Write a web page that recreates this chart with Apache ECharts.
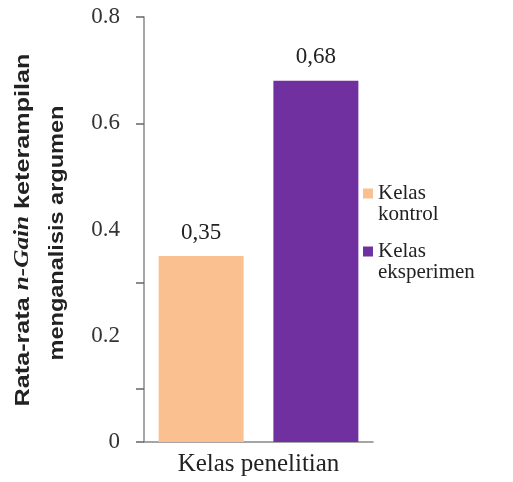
<!DOCTYPE html>
<html>
<head>
<meta charset="utf-8">
<script src="https://cdn.jsdelivr.net/npm/echarts@6/dist/echarts.min.js"></script>
<style>html,body{margin:0;padding:0;background:#fff}#c{width:513px;height:482px}</style>
</head>
<body>
<div id="c"></div>
<script>
var categories = ['Kelas penelitian'];
var seriesNames = ['Kelas kontrol', 'Kelas eksperimen'];
var kontrolValues = [0.35];
var eksperimenValues = [0.68];
var dataLabels = ['0,35', '0,68'];
var yTickValues = [0, 0.1, 0.3, 0.6, 0.8];
var yLabelValues = [0, 0.2, 0.4, 0.6, 0.8];
var yTitleLine1 = 'Rata-rata {i|n-Gain} keterampilan';
var yTitleLine2 = 'menganalisis argumen';

var serif = '"Liberation Serif", "DejaVu Serif", serif';
var sans = '"Liberation Sans", Arial, sans-serif';
var chart = echarts.init(document.getElementById('c'), null, {renderer: 'canvas'});
var colors = ['#FAC090', '#7030A0'];

function mkSeries(i, vals) {
  return {
    name: seriesNames[i],
    type: 'bar',
    data: vals,
    barWidth: 85,
    barGap: '35%',
    itemStyle: {color: colors[i]},
    label: {
      show: true, position: 'top', distance: 12,
      formatter: function () { return dataLabels[i]; },
      fontFamily: serif, fontSize: 23, color: '#222'
    }
  };
}

chart.setOption({
  animation: false,
  backgroundColor: '#fff',
  grid: {left: 144, right: 140, top: 17, bottom: 40},
  legend: {
    orient: 'vertical', left: 363, top: 162, padding: 0,
    itemWidth: 10, itemHeight: 10, itemGap: -5,
    icon: 'rect',
    data: seriesNames,
    formatter: function (n) { return ' \n' + n.replace(' ', '\n'); },
    textStyle: {fontFamily: serif, fontSize: 21, lineHeight: 21, color: '#222'}
  },
  xAxis: {
    type: 'category', data: categories,
    axisLine: {lineStyle: {color: '#888', width: 1.5}},
    axisTick: {show: false},
    axisLabel: {fontFamily: serif, fontSize: 25, color: '#222', margin: 10}
  },
  yAxis: {
    type: 'value', min: 0, max: 0.8, interval: 0.2,
    splitLine: {show: false},
    axisLine: {show: true, lineStyle: {color: '#888', width: 1.5}},
    axisTick: {show: true, length: 8, lineStyle: {color: '#666', width: 1.5}, customValues: yTickValues},
    axisLabel: {fontFamily: serif, fontSize: 23, color: '#333', margin: 24, customValues: yLabelValues,
      formatter: function (v) { return String(v); }}
  },
  graphic: [
    {type: 'text', x: 23, y: 230, rotation: Math.PI / 2, scaleX: 1.2,
      style: {text: yTitleLine1, font: 'bold 21px ' + sans, fill: '#222', align: 'center', verticalAlign: 'middle',
        rich: {i: {fontStyle: 'italic', fontWeight: 'bold', fontSize: 21, fontFamily: serif, fill: '#222'}}}},
    {type: 'text', x: 57, y: 233, rotation: Math.PI / 2, scaleX: 1.12,
      style: {text: yTitleLine2, font: 'bold 21px ' + sans, fill: '#222', align: 'center', verticalAlign: 'middle'}}
  ],
  series: [mkSeries(0, kontrolValues), mkSeries(1, eksperimenValues)]
});
</script>
</body>
</html>
